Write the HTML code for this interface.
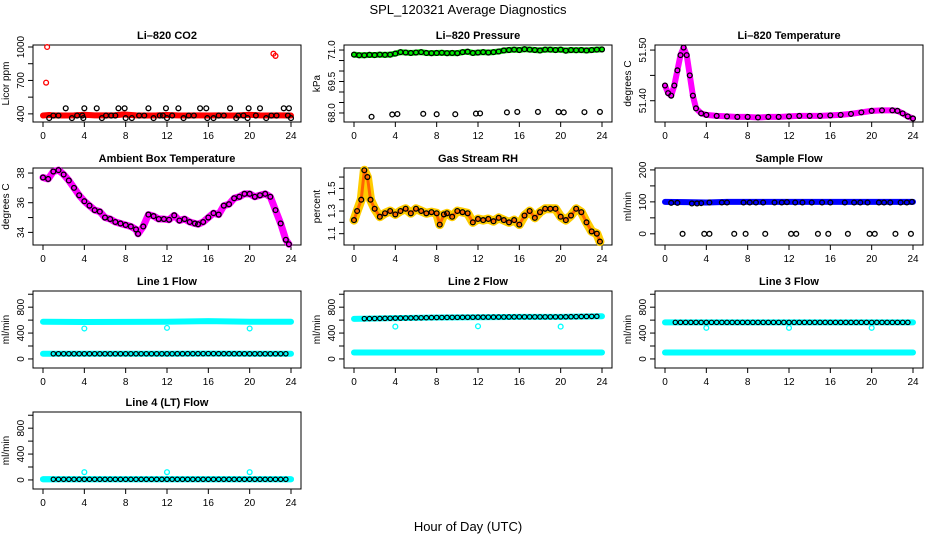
<!DOCTYPE html>
<html><head><meta charset="utf-8">
<style>
html,body{margin:0;padding:0;background:#fff;}
svg{display:block;font-family:"Liberation Sans",sans-serif;}
</style></head>
<body>
<svg id="chart" width="936" height="540" viewBox="0 0 936 540">
<text x="468" y="14" text-anchor="middle" font-size="13">SPL_120321  Average Diagnostics</text>
<text x="468" y="531" text-anchor="middle" font-size="13">Hour of Day (UTC)</text>
</svg>
<script>
// ---------- data ----------
const xTicks = [0,4,8,12,16,20,24];
// CO2
const co2BandHours = [0,0.3,0.6,1,2,3,4,5,6,7,7.8,8.2,9,10,11,12,13,14,15,16,17,18,19,20,21,22,23,24];
const co2BandValues = [385,388,390,386,385,386,392,386,386,388,395,392,386,385,386,390,386,385,386,385,386,385,386,392,386,385,386,385];
const co2OutlierHours = [0.4,0.3,22.3,22.5];
const co2OutlierValues = [1000,680,940,920];
const co2HighHours = [2.2,4.0,5.2,7.3,7.9,10.2,11.9,13.1,15.2,15.8,18.1,19.9,21.0,23.3,23.8];
const co2HighValues = [450,450,450,450,450,450,450,450,450,450,450,450,450,450,450];
const co2LowHours = [0.6,2.8,3.9,5.7,8.0,8.6,10.7,12.0,13.6,15.9,16.5,18.7,19.8,21.6,24.0];
const co2LowValues = [362,362,362,362,362,362,362,362,362,362,362,362,362,362,362];
const co2MidHours = [1.0,1.5,3.3,3.8,6.1,6.6,7.0,9.3,9.8,11.3,11.6,12.5,14.1,14.6,17.0,17.5,18.9,19.4,20.6,22.1,22.6,23.7];
const co2MidValues = [385,385,385,385,385,385,385,385,385,385,385,385,385,385,385,385,385,385,385,385,385,385];
// Pressure
const presHours = [0,0.5,1,1.5,2,2.5,3,3.5,4,4.5,5,5.5,6,6.5,7,7.5,8,8.5,9,9.5,10,10.5,11,11.5,12,12.5,13,13.5,14,14.5,15,15.5,16,16.5,17,17.5,18,18.5,19,19.5,20,20.5,21,21.5,22,22.5,23,23.5,24];
const presValues = [70.78,70.75,70.75,70.77,70.76,70.78,70.77,70.78,70.83,70.9,70.88,70.86,70.88,70.9,70.86,70.85,70.86,70.87,70.85,70.86,70.85,70.9,70.92,70.86,70.88,70.9,70.88,70.9,70.93,70.98,71.0,71.02,71.0,71.04,71.02,71.0,70.98,71.02,71.02,71.0,71.02,70.97,71.0,70.99,71.0,70.98,71.0,71.02,71.03];
const presLowHours = [1.7,3.7,4.2,6.7,8.0,9.8,11.8,12.2,14.8,15.8,17.8,19.8,20.3,22.3,23.8];
const presLowValues = [67.82,67.93,67.95,67.96,67.94,67.94,67.97,67.98,68.03,68.05,68.05,68.05,68.03,68.04,68.05];
// Li-820 temperature
const ltHours = [0,0.3,0.6,0.9,1.2,1.5,1.8,2.1,2.4,2.7,3,3.5,4,5,6,7,8,9,10,11,12,13,14,15,16,17,18,19,20,21,22,22.5,23,23.5,24];
const ltValues = [51.43,51.415,51.41,51.43,51.46,51.49,51.505,51.49,51.45,51.41,51.385,51.375,51.372,51.37,51.369,51.368,51.368,51.367,51.368,51.368,51.369,51.37,51.37,51.37,51.371,51.372,51.374,51.377,51.38,51.381,51.381,51.38,51.375,51.369,51.365];
// Ambient box temperature
const ambHours = [0,0.5,1,1.5,2,2.5,3,3.5,4,4.5,5,5.5,6,6.5,7,7.5,8,8.5,9,9.2,9.7,10.2,10.7,11.2,11.7,12.2,12.7,13.2,13.7,14.2,14.7,15,15.5,16,16.5,17,17.5,18,18.5,19,19.5,20,20.5,21,21.5,22,22.5,23,23.5,23.8];
const ambValues = [37.7,37.6,38.1,38.2,37.9,37.5,37.0,36.5,36.1,35.8,35.5,35.4,35.0,34.9,34.7,34.6,34.5,34.4,34.2,33.9,34.4,35.2,35.1,34.9,34.9,34.85,35.15,34.8,34.9,34.7,34.6,34.55,34.7,35.0,35.3,35.2,35.8,35.9,36.3,36.4,36.6,36.6,36.4,36.5,36.6,36.4,35.5,34.6,33.5,33.2];
// Gas stream RH
const rhHours = [0,0.3,0.7,1,1.3,1.6,2,2.5,3,3.5,4,4.5,5,5.5,6,6.5,7,7.5,8,8.3,8.7,9,9.5,10,10.5,11,11.5,12,12.5,13,13.5,14,14.5,15,15.5,16,16.5,17,17.5,18,18.5,19,19.5,20,20.5,21,21.5,22,22.5,23,23.5,23.8];
const rhValues = [1.22,1.3,1.4,1.66,1.6,1.4,1.32,1.25,1.28,1.3,1.27,1.3,1.32,1.28,1.32,1.3,1.28,1.29,1.28,1.18,1.27,1.28,1.25,1.3,1.29,1.28,1.2,1.23,1.22,1.23,1.21,1.24,1.22,1.2,1.22,1.18,1.26,1.3,1.24,1.29,1.32,1.32,1.32,1.25,1.22,1.26,1.32,1.29,1.2,1.12,1.1,1.03];
// Sample flow
const sfHours = [0,2,4,6,8,10,12,14,16,18,20,22,24];
const sfValues = [100,99,98,100,100,100,100,100,100,100,100,100,100];
const sfCircleHours = [0.6,1.2,2.6,3.1,3.5,4.3,5.5,6.0,7.6,8.2,8.8,9.5,10.6,11.3,11.8,12.6,13.3,14.2,15.2,16.0,17.4,18.3,18.9,19.6,20.7,21.2,21.8,22.8,23.4,23.9];
const sfCircleValues = [97,97,95,95,96,98,98,98,98,98,98,98,98,98,99,98,98,98,98,98,98,98,98,98,98,98,98,98,98,100];
const sfZeroHours = [1.7,3.8,4.3,6.7,7.8,9.7,12.2,12.7,14.8,15.8,17.7,19.8,20.3,22.3,23.8];
const sfZeroValues = [0,0,0,0,0,0,0,0,0,0,0,0,0,0,0];
// Flow panels
const flowBandHours = [0,4,8,12,16,20,24];
const line1Upper = [575,570,572,575,585,575,575];
const line1Lower = [80,80,80,80,82,80,80];
const line2Upper = [620,630,640,645,650,650,660];
const line2Lower = [100,100,100,100,100,100,100];
const line3Upper = [565,565,565,565,565,565,565];
const line3Lower = [100,100,100,100,100,100,100];
const line4Upper = [10,10,10,10,10,10,10];
const line4Lower = [10,10,10,10,10,10,10];
const spikeHours = [4,12,20];
const line1Spikes = [470,480,470];
const line2Spikes = [500,505,500];
const line3Spikes = [480,480,480];
const line4Spikes = [120,120,120];

// ---------- helpers ----------
const NS = "http://www.w3.org/2000/svg";
const svg = document.getElementById('chart');
function mk(tag, attrs, parent){
  const e = document.createElementNS(NS, tag);
  for (const k in attrs) e.setAttribute(k, attrs[k]);
  (parent||svg).appendChild(e);
  return e;
}
const colLeft = [33, 344, 655], rowTop = [45, 168, 291, 412];
const W = 268, H = 77;

function panel(col,row,name,title,ylab,ymin,ymax,ticks,labels,labelText){
  const L = colLeft[col], T = rowTop[row];
  const g = mk('g',{});
  
  
  const xs = h => L + 10 + h/24*248;
  const ys = v => T + H - (v - ymin)/(ymax - ymin)*H;
  const t = mk('text',{x:L+W/2,y:T-6,'text-anchor':'middle','font-size':'11','font-weight':'bold'},g);
  t.textContent = title;
  
  
  const box = mk('rect',{x:L,y:T,width:W,height:H,fill:'none',stroke:'#000','stroke-width':1},g);
  
  
  const xa = mk('g',{},g);
  
  
  xTicks.forEach(h=>{
    mk('line',{x1:xs(h),x2:xs(h),y1:T+H,y2:T+H+5,stroke:'#000'},xa);
    const tl = mk('text',{x:xs(h),y:T+H+17,'text-anchor':'middle','font-size':'10'},xa);
    tl.textContent = h;
  });
  const ya = mk('g',{},g);
  
  
  mk('line',{x1:L,x2:L,y1:ys(ticks[0]),y2:ys(ticks[ticks.length-1]),stroke:'#000'},ya);
  ticks.forEach(v=>{
    mk('line',{x1:L-5,x2:L,y1:ys(v),y2:ys(v),stroke:'#000'},ya);
  });
  labels.forEach((v,i)=>{
    const x = L-9, y = ys(v);
    const tl = mk('text',{x:x,y:y,'text-anchor':'middle','font-size':'10',transform:`rotate(-90 ${x} ${y})`},ya);
    tl.textContent = labelText ? labelText[i] : v;
  });
  const yx = L-24, yy = T+H/2;
  const yl = mk('text',{x:yx,y:yy,'text-anchor':'middle','font-size':'10',transform:`rotate(-90 ${yx} ${yy})`},g);
  yl.textContent = ylab;
  
  
  return {g,xs,ys};
}
function band(p,hours,vals,color,w,name){
  const pl = mk('polyline',{points:hours.map((h,i)=>p.xs(h)+','+p.ys(vals[i])).join(' '),fill:'none',stroke:color,'stroke-width':w,'stroke-linejoin':'round','stroke-linecap':'round'},p.g);
  
  
}
function circles(p,hours,vals,color,name,r,sw){
  const g = mk('g',{},p.g);
  
  
  hours.forEach((h,i)=>{
    mk('circle',{cx:p.xs(h),cy:p.ys(vals[i]),r:r||2.4,fill:'none',stroke:color,'stroke-width':sw||1.3},g);
  });
}

// ---------- panels ----------
let p;
p = panel(0,0,'panel-co2','Li\u2013820 CO2','Licor ppm',327,1018,[400,550,700,850,1000],[400,700,1000]);
band(p,co2BandHours,co2BandValues,'#ff0000',6,'co2-red-band');
circles(p,co2OutlierHours,co2OutlierValues,'#ff0000','co2-outliers');
circles(p,co2HighHours,co2HighValues,'#000','co2-high-points');
circles(p,co2LowHours,co2LowValues,'#000','co2-low-points');
circles(p,co2MidHours,co2MidValues,'#000','co2-mid-points');

p = panel(1,0,'panel-pressure','Li\u2013820 Pressure','kPa',67.57,71.24,[68,68.5,69,69.5,70,70.5,71],[68,69.5,71],['68.0','69.5','71.0']);
band(p,presHours,presValues,'#00ee00',6,'pressure-green-band');
circles(p,presHours,presValues,'#000','pressure-points');
circles(p,presLowHours,presLowValues,'#000','pressure-low-points');

p = panel(2,0,'panel-li820-temp','Li\u2013820 Temperature','degrees C',51.358,51.51,[51.40,51.45,51.50],[51.40,51.50],['51.40','51.50']);
band(p,ltHours,ltValues,'#ff00ff',6,'li820-temp-band');
circles(p,ltHours,ltValues,'#000','li820-temp-points');

p = panel(0,1,'panel-ambient','Ambient Box Temperature','degrees C',33.15,38.34,[34,35,36,37,38],[34,36,38]);
band(p,ambHours,ambValues,'#ff00ff',7,'ambient-band');
circles(p,ambHours,ambValues,'#000','ambient-points');

p = panel(1,1,'panel-rh','Gas Stream RH','percent',1.0,1.68,[1.1,1.2,1.3,1.4,1.5,1.6],[1.1,1.3,1.5],['1.1','1.3','1.5']);
band(p,rhHours,rhValues,'#ffcc00',9,'rh-yellow-band');
band(p,rhHours,rhValues,'#ff6600',3,'rh-orange-band');
circles(p,rhHours,rhValues,'#000','rh-points');

p = panel(2,1,'panel-sample-flow','Sample Flow','ml/min',-35,206,[0,50,100,150,200],[0,100,200]);
band(p,sfHours,sfValues,'#0000ff',6,'sample-flow-band');
circles(p,sfCircleHours,sfCircleValues,'#000','sample-flow-points');
circles(p,sfZeroHours,sfZeroValues,'#000','sample-flow-zero-points');

const flowTicks=[0,200,400,600,800,1000], flowLabels=[0,400,800];
function flowPanel(col,row,name,title,up,low,spk,blackUpper){
  const q = panel(col,row,name,title,'ml/min',-140,1050,flowTicks,flowLabels);
  band(q,flowBandHours,up,'#00ffff',6,'upper-cyan-band');
  band(q,flowBandHours,low,'#00ffff',6,'lower-cyan-band');
  circles(q,spikeHours,spk,'#00ffff','calibration-spikes');
  const blackHours=[],bu=[],bl=[];
  for(let i=0;i<flowBandHours.length-1;i++){
    for(let k=0;k<8;k++){
      const h=flowBandHours[i]+k*0.5;
      if(h<0.6) continue;
      blackHours.push(h);
      const f=k/8;
      bu.push(up[i]+(up[i+1]-up[i])*f);
      bl.push(low[i]+(low[i+1]-low[i])*f);
    }
  }
  circles(q,blackHours,blackUpper?bu:bl,'#000','flow-points',2.2,1.2);
  return q;
}
flowPanel(0,2,'panel-line1-flow','Line 1 Flow',line1Upper,line1Lower,line1Spikes,false);
flowPanel(1,2,'panel-line2-flow','Line 2 Flow',line2Upper,line2Lower,line2Spikes,true);
flowPanel(2,2,'panel-line3-flow','Line 3 Flow',line3Upper,line3Lower,line3Spikes,true);
flowPanel(0,3,'panel-line4-flow','Line 4 (LT) Flow',line4Upper,line4Lower,line4Spikes,false);
</script>
</body></html>
